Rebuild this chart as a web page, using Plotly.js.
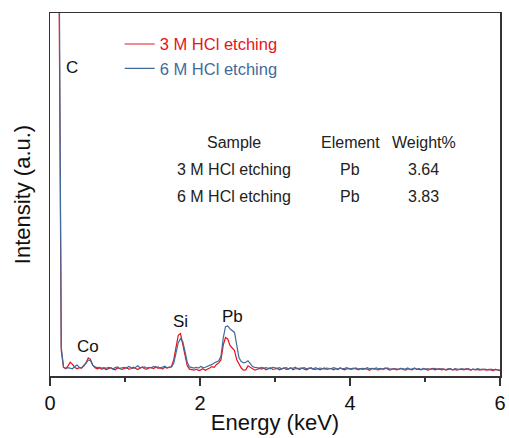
<!DOCTYPE html>
<html>
<head>
<meta charset="utf-8">
<script src="https://cdn.plot.ly/plotly-3.0.1.min.js"></script>
<style>html,body{margin:0;padding:0;background:#fff;}#chart{width:509px;height:438px;}</style>
</head>
<body>
<div id="chart"></div>
<script>
// Energy grid: first sample and spacing (keV)
const energyStart = 0.12;
const energyStep = 0.03;

const seriesNames = ['3 M HCl etching', '6 M HCl etching'];

// Intensity (a.u.), one value per 0.03 keV from 0.12 to 6.00 keV
const hcl3M = [
  110, 7, 2.4, 2.0, 2.8, 3.8, 3.2, 2.4, 2.0, 2.3,
  2.2, 2.8, 3.6, 5.0, 4.6, 3.0, 2.3, 2.0, 2.2, 1.9,
  2.1, 1.8, 2.0, 2.3, 1.9, 1.7, 2.2, 2.0, 1.8, 2.1,
  2.3, 1.9, 2.0, 2.4, 2.1, 1.8, 2.2, 2.5, 2.0, 1.9,
  2.2, 2.4, 2.0, 2.6, 2.1, 2.3, 1.9, 2.4, 2.2, 2.3,
  2.6, 4.5, 8.5, 11.2, 11.7, 9.0, 5.4, 2.8, 1.9, 1.7,
  1.6, 1.9, 1.5, 1.7, 2.0, 1.6, 1.8, 2.2, 2.6, 2.4,
  3.2, 3.6, 4.5, 8.5, 10.6, 10.2, 8.4, 7.8, 7.0, 4.5,
  3.4, 2.2, 1.6, 1.7, 2.8, 2.4, 1.9, 1.6, 1.8, 2.1,
  1.9, 2.2, 1.7, 2.0, 2.3, 1.8, 1.9, 2.1, 1.7, 2.0,
  2.2, 1.8, 1.9, 2.3, 1.7, 2.0, 2.1, 1.8, 2.2, 1.9,
  1.7, 2.0, 2.3, 1.9, 1.8, 2.1, 1.7, 2.0, 2.2, 1.8,
  1.9, 2.1, 1.7, 2.0, 1.8, 2.2, 1.9, 1.7, 2.0, 2.1,
  1.8, 1.9, 2.2, 1.7, 2.0, 1.8, 2.1, 1.9, 1.6, 2.0,
  2.1, 1.8, 1.7, 2.0, 1.9, 2.2, 1.8, 1.6, 1.9, 2.0,
  1.7, 1.9, 2.1, 1.8, 1.6, 2.0, 1.9, 1.7, 2.2, 1.8,
  1.9, 1.7, 2.0, 1.8, 1.6, 1.9, 2.1, 1.7, 1.8, 2.0,
  1.7, 1.9, 1.6, 1.8, 2.0, 1.7, 1.8, 1.6, 1.9, 1.8,
  1.7, 2.0, 1.8, 1.6, 1.9, 1.7, 1.8, 1.6, 1.9, 1.7,
  1.6, 1.8, 1.7, 1.5, 1.8, 1.6, 1.5
];
const hcl6M = [
  125, 8, 2.5, 2.1, 2.3, 2.2, 2.0, 2.6, 3.0, 2.4,
  2.2, 2.7, 3.4, 4.4, 4.2, 3.0, 2.5, 2.3, 2.4, 2.2,
  2.3, 2.1, 2.4, 2.2, 2.0, 2.3, 2.5, 2.1, 2.2, 2.4,
  2.2, 2.6, 2.3, 2.1, 2.4, 2.8, 2.2, 2.3, 2.5, 2.2,
  2.4, 2.2, 2.6, 2.3, 2.5, 2.2, 2.4, 2.7, 2.3, 2.4,
  2.5, 3.5, 6.5, 9.2, 10.3, 9.5, 6.8, 3.8, 2.5, 2.3,
  2.2, 2.4, 2.2, 2.6, 2.3, 2.4, 2.6, 2.8, 3.2, 3.6,
  4.0, 4.2, 5.5, 10.5, 13.6, 13.8, 13.0, 12.4, 12.0, 8.5,
  5.0, 4.0, 3.6, 3.8, 4.2, 3.4, 2.6, 2.4, 2.3, 2.2,
  2.4, 2.1, 2.3, 2.2, 2.0, 2.4, 2.2, 2.1, 2.3, 2.0,
  2.2, 2.3, 2.0, 2.2, 2.1, 2.4, 2.0, 2.2, 2.1, 2.3,
  2.0, 2.2, 2.1, 1.9, 2.3, 2.0, 2.2, 2.1, 1.9, 2.2,
  2.1, 2.0, 2.3, 2.1, 1.9, 2.2, 2.0, 2.1, 2.3, 1.9,
  2.1, 2.2, 1.9, 2.0, 2.2, 2.1, 1.9, 2.3, 2.0, 2.1,
  1.9, 2.2, 2.0, 2.1, 1.8, 2.0, 2.2, 1.9, 2.0, 2.1,
  2.0, 1.8, 2.1, 2.0, 1.9, 2.2, 1.8, 2.0, 2.1, 1.9,
  2.0, 1.8, 2.1, 1.9, 2.0, 1.8, 2.0, 2.1, 1.9, 1.8,
  2.0, 1.9, 1.8, 2.0, 1.9, 1.7, 2.0, 1.9, 1.8, 2.0,
  1.9, 1.8, 2.0, 1.7, 1.9, 1.8, 2.0, 1.8, 1.7, 1.9,
  1.8, 1.7, 1.9, 1.7, 1.8, 1.7, 1.6
];

// Peak labels
const peakLabels = ['C', 'Co', 'Si', 'Pb'];
const peakEnergies = [0.29, 0.51, 1.74, 2.43];
const peakHeights = [85, 8, 15, 16.3];

// Inset table
const tableHeader = ['Sample', 'Element', 'Weight%'];
const tableSamples = ['3 M HCl etching', '6 M HCl etching'];
const tableElements = ['Pb', 'Pb'];
const tableWeights = ['3.64', '3.83'];

const RED = '#e3141c';
const BLUE = '#3f6c9c';
const FONT = 'Liberation Sans, Arial, sans-serif';

const traces = [
  {x0: energyStart, dx: energyStep, y: hcl3M, type: 'scatter', mode: 'lines',
   name: '<span style="color:' + RED + '">' + seriesNames[0] + '</span>',
   line: {color: RED, width: 1.2}, legendgroup: 'a'},
  {x0: energyStart, dx: energyStep, y: hcl6M, type: 'scatter', mode: 'lines',
   name: '<span style="color:' + BLUE + '">' + seriesNames[1] + '</span>',
   line: {color: BLUE, width: 1.2}, legendgroup: 'b'}
];

const annotations = [];
peakLabels.forEach((t, i) => annotations.push({
  x: peakEnergies[i], y: peakHeights[i], xref: 'x', yref: 'y', text: t,
  showarrow: false, font: {family: FONT, size: 17, color: '#111'}
}));
const colX = [0.408, 0.667, 0.831];
const rowY = [0.643, 0.57, 0.494];
const tFont = {family: FONT, size: 16, color: '#222'};
function cell(t, cx, cy) {
  annotations.push({x: cx, y: cy, xref: 'paper', yref: 'paper', xanchor: 'center', yanchor: 'middle',
                    text: t, showarrow: false, font: tFont});
}
tableHeader.forEach((t, i) => cell(t, colX[i], rowY[0]));
tableSamples.forEach((t, r) => {
  cell(t, colX[0], rowY[r + 1]);
  cell(tableElements[r], colX[1], rowY[r + 1]);
  cell(tableWeights[r], colX[2], rowY[r + 1]);
});

const layout = {
  width: 509, height: 438,
  margin: {l: 50, r: 9, t: 13, b: 62},
  paper_bgcolor: '#fff', plot_bgcolor: '#fff',
  font: {family: FONT, color: '#111'},
  showlegend: true,
  legend: {x: 0.155, y: 0.962, xanchor: 'left', yanchor: 'top', bgcolor: 'rgba(0,0,0,0)',
           font: {family: FONT, size: 16.5}, tracegroupgap: 0},
  xaxis: {
    range: [0, 6], dtick: 2, tick0: 0, ticks: 'outside', ticklen: 8, tickwidth: 1.5, tickcolor: '#333',
    minor: {dtick: 1, ticks: 'outside', ticklen: 4, tickwidth: 1.5, tickcolor: '#333'},
    showline: true, linecolor: '#333', linewidth: 1.5, mirror: true,
    showgrid: false, zeroline: false,
    tickfont: {family: FONT, size: 20, color: '#111'}, ticklabelstandoff: 0,
    title: {text: 'Energy (keV)', font: {family: FONT, size: 22, color: '#111'}, standoff: 2}
  },
  yaxis: {
    range: [0, 100], showticklabels: false, ticks: '',
    showline: true, linecolor: '#333', linewidth: 1.5, mirror: true,
    showgrid: false, zeroline: false,
    title: {text: 'Intensity (a.u.)', font: {family: FONT, size: 22, color: '#111'}, standoff: 12}
  },
  annotations: annotations
};

Plotly.newPlot('chart', traces, layout, {displayModeBar: false, staticPlot: true});
</script>
</body>
</html>
